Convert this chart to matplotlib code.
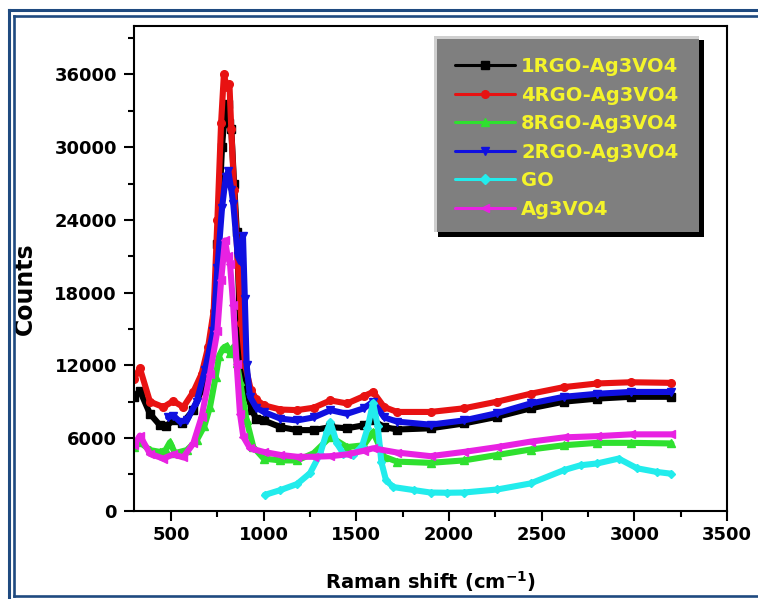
import matplotlib
matplotlib.use("Agg")
import matplotlib.pyplot as plt
from matplotlib.patches import Rectangle
from matplotlib.lines import Line2D
from matplotlib.ticker import MultipleLocator

# ---------------- data ----------------
labels = ["1RGO-Ag3VO4", "4RGO-Ag3VO4", "8RGO-Ag3VO4", "2RGO-Ag3VO4", "GO", "Ag3VO4"]

black_x = [300, 332, 386, 440, 470, 512, 560, 620, 665, 700, 730, 750, 775, 790, 805, 815, 825, 840,
           855, 868, 880, 900, 935, 960, 1000, 1090, 1180, 1270, 1360, 1450, 1540, 1590, 1650, 1720,
           1900, 2080, 2260, 2440, 2620, 2800, 2980, 3200]
black_y = [9400, 9900, 8000, 7050, 6950, 7450, 7200, 8300, 10000, 12000, 15500, 22000, 30000, 33000,
           33600, 32000, 31500, 27000, 23000, 17000, 12500, 10300, 8300, 7600, 7450, 6900, 6650, 6650,
           6900, 6800, 7050, 7450, 6900, 6700, 6800, 7200, 7750, 8450, 9000, 9250, 9400, 9400]

red_x = [300, 332, 386, 458, 512, 566, 620, 665, 700, 730, 750, 770, 785, 800, 815, 825, 840, 860,
         880, 900, 930, 960, 1000, 1090, 1180, 1270, 1360, 1450, 1540, 1590, 1650, 1720, 1900, 2080,
         2260, 2440, 2620, 2800, 2980, 3200]
red_y = [10900, 11750, 9000, 8550, 9050, 8550, 9800, 11300, 13500, 16500, 24000, 32000, 36000, 35000,
         35200, 31500, 26500, 20500, 15500, 12000, 10000, 9200, 8700, 8350, 8300, 8500, 9100, 8850,
         9450, 9800, 8550, 8150, 8150, 8450, 9000, 9650, 10200, 10500, 10600, 10550]

green_x = [300, 332, 386, 440, 470, 494, 521, 585, 638, 680, 710, 740, 760, 780, 800, 818, 836, 855,
           872, 890, 908, 944, 1000, 1090, 1180, 1270, 1360, 1450, 1540, 1590, 1650, 1720, 1900, 2080,
           2260, 2440, 2620, 2800, 2980, 3200]
green_y = [5250, 5650, 5000, 4850, 5000, 5650, 4750, 5000, 5800, 7000, 8550, 11000, 12800, 13400,
           13600, 13000, 13500, 12200, 10700, 9000, 7450, 5250, 4300, 4150, 4150, 4750, 6100, 5250,
           5400, 6500, 4450, 4050, 3950, 4150, 4600, 5050, 5400, 5600, 5600, 5550]

blue_x = [484, 512, 548, 585, 638, 683, 728, 750, 775, 795, 809, 825, 836, 860, 875, 888, 898, 908,
          926, 960, 1000, 1090, 1180, 1270, 1360, 1450, 1540, 1590, 1650, 1720, 1900, 2080, 2260,
          2440, 2620, 2800, 2980, 3200]
blue_y = [7700, 7850, 7350, 7450, 9000, 11600, 14850, 20000, 25000, 27500, 28000, 26500, 25300,
          21000, 20500, 22700, 17500, 12000, 9400, 8500, 8150, 7600, 7450, 7700, 8300, 8000, 8450,
          9000, 7700, 7350, 7100, 7450, 8050, 8850, 9400, 9650, 9800, 9800]

cyan_x = [1005, 1090, 1180, 1250, 1305, 1340, 1360, 1395, 1430, 1480, 1530, 1560, 1590, 1615, 1635,
          1660, 1700, 1810, 1900, 1990, 2080, 2260, 2440, 2620, 2710, 2800, 2915, 3015, 3120, 3200]
cyan_y = [1300, 1700, 2200, 3100, 4700, 6500, 7300, 5550, 4700, 4600, 5300, 6800, 8900, 7000, 4000,
          2500, 1950, 1700, 1500, 1480, 1500, 1750, 2250, 3350, 3750, 3900, 4300, 3500, 3200, 3050]

magenta_x = [300, 332, 386, 458, 512, 566, 620, 665, 710, 750, 770, 791, 805, 818, 835, 854, 872, 890,
             926, 1000, 1090, 1180, 1270, 1360, 1450, 1540, 1590, 1720, 1900, 2080, 2260, 2440, 2620,
             2800, 2980, 3200]
magenta_y = [5400, 6200, 4700, 4300, 4650, 4400, 5550, 7750, 11300, 14850, 19000, 22300, 21000, 20400,
             17000, 12100, 8000, 6100, 5150, 4850, 4600, 4450, 4450, 4500, 4650, 4950, 5150, 4800, 4500,
             4850, 5250, 5700, 6050, 6150, 6300, 6300]

x_ticks = [500, 1000, 1500, 2000, 2500, 3000, 3500]
y_ticks = [0, 6000, 12000, 18000, 24000, 30000, 36000]

series = [
    (black_x, black_y, "#000000", "s"),
    (red_x, red_y, "#E81212", "o"),
    (green_x, green_y, "#2FE02F", "^"),
    (blue_x, blue_y, "#1010E0", "v"),
    (cyan_x, cyan_y, "#22ECEC", "D"),
    (magenta_x, magenta_y, "#E822E2", "<"),
]

# ---------------- figure ----------------
W, H = 758, 599
fig = plt.figure(figsize=(W / 100, H / 100), dpi=100)
fig.patch.set_facecolor("white")


def fx(px):
    return px / W


def fy(py):
    return 1 - py / H


ax_l, ax_r, ax_t, ax_b = 134, 727, 26, 510.7
ax = fig.add_axes([fx(ax_l), fy(ax_b), (ax_r - ax_l) / W, (ax_b - ax_t) / H])

handles = []
for (xs, ys, col, mk), lab in zip(series, labels):
    ms = 5.5 if mk != "D" else 4.5
    h, = ax.plot(xs, ys, color=col, lw=4.4, marker=mk, ms=ms, mec=col, mfc=col,
                 solid_joinstyle="round", solid_capstyle="round", label=lab)
    handles.append(h)

ax.set_xlim(300, 3500)
ax.set_ylim(0, 40000)
ax.set_xticks(x_ticks)
ax.set_yticks(y_ticks)
ax.xaxis.set_minor_locator(MultipleLocator(250))
ax.yaxis.set_minor_locator(MultipleLocator(3000))
ax.tick_params(which="both", direction="out", width=1.5, top=False, right=False)
ax.tick_params(which="major", length=7.2)
ax.tick_params(which="minor", length=4)
ax.tick_params(axis="x", which="major", pad=4)
ax.tick_params(axis="y", which="major", pad=5)
for lab in ax.get_xticklabels() + ax.get_yticklabels():
    lab.set_fontsize(13)
    lab.set_fontweight("bold")
for sp in ax.spines.values():
    sp.set_linewidth(1.5)

ax.set_ylabel("Counts", fontsize=17, fontweight="bold")
ax.yaxis.set_label_coords((37 - ax_l) / (ax_r - ax_l), (ax_b - 289) / (ax_b - ax_t))
ax.set_xlabel(r"Raman shift (cm$^{\mathbf{-1}}$)", fontsize=14, fontweight="bold")
ax.xaxis.set_label_coords(0.5, (ax_b - 569) / (ax_b - ax_t))

# ---------------- legend box (bevelled grey panel with black shadow) ----------------
def frect(x0, y0, x1, y1, color, z):
    r = Rectangle((fx(x0), fy(y1)), (x1 - x0) / W, (y1 - y0) / H, transform=fig.transFigure,
                  facecolor=color, edgecolor="none", zorder=z, clip_on=False)
    ax.add_patch(r)


frect(438, 40, 704, 237, "#000000", 4)
frect(434, 36, 699, 232, "#CFCFCF", 4.1)
frect(437.5, 39.5, 699, 232, "#7F7F7F", 4.2)

leg = ax.legend(handles=handles, labels=labels, loc="upper left",
                bbox_to_anchor=(fx(455), fy(57)), bbox_transform=fig.transFigure,
                frameon=False, borderpad=0, borderaxespad=0, handlelength=3.1,
                handletextpad=0.3, labelspacing=0.49,
                prop={"size": 14, "weight": "bold"})
leg.set_zorder(6)
for t in leg.get_texts():
    t.set_color("#F4F42A")
for ln in leg.get_lines():
    ln.set_linewidth(2.2)
    ln.set_markersize(5.5)

# ---------------- page decorations (double blue frame) ----------------
blue = "#1F4A80"
fig.add_artist(Line2D([fx(8.8), 1.0], [fy(10.3), fy(10.3)], color=blue, lw=2.2, transform=fig.transFigure))
fig.add_artist(Line2D([fx(8.8), fx(8.8)], [fy(10.3), 0.0], color=blue, lw=2.2, transform=fig.transFigure))
fig.add_artist(Line2D([fx(13.8), 1.0], [fy(16), fy(16)], color=blue, lw=1.9, transform=fig.transFigure))
fig.add_artist(Line2D([fx(13.8), fx(13.8)], [fy(16), fy(596)], color=blue, lw=1.9, transform=fig.transFigure))
fig.add_artist(Line2D([fx(13.8), 1.0], [fy(596), fy(596)], color=blue, lw=1.9, transform=fig.transFigure))

fig.savefig("out.png", dpi=100, facecolor="white")
